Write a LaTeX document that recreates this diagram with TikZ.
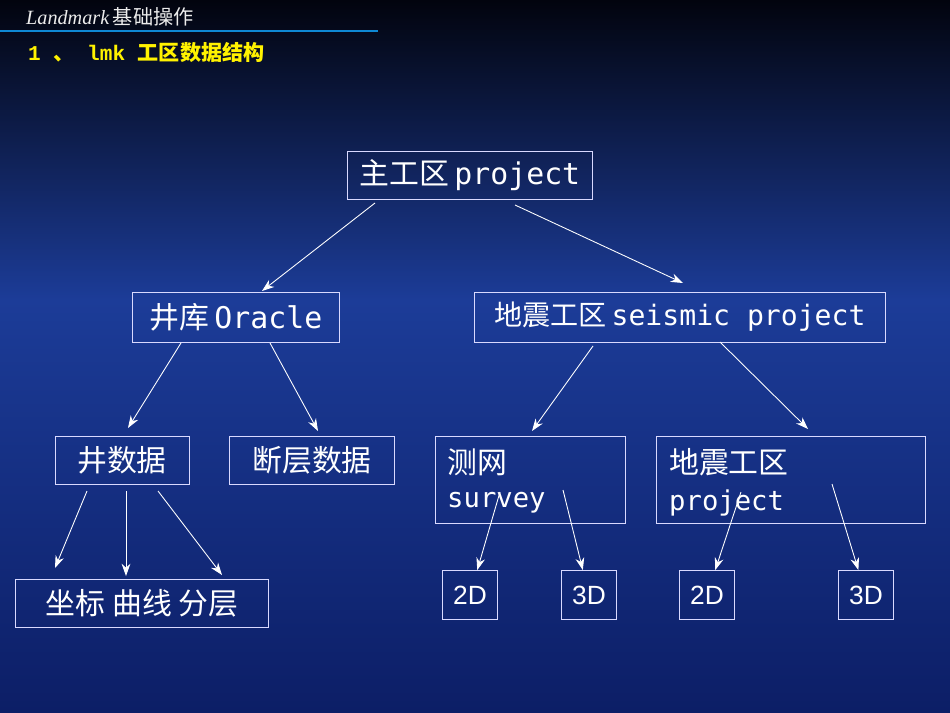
\documentclass[tikz,border=0pt]{standalone}
\usepackage{fontspec}
\setmainfont{Liberation Serif}
\newfontfamily\cjk{Noto Sans CJK SC}
\newfontfamily\lat{DejaVu Sans Mono}
\newfontfamily\ttl{Liberation Mono}
\newfontfamily\sans{Liberation Sans}
\usetikzlibrary{arrows.meta}
\definecolor{bgtop}{HTML}{02040E}
\definecolor{bgmid}{HTML}{1C3C98}
\definecolor{bgbot}{HTML}{0C1E66}
\begin{document}
\begin{tikzpicture}[x=0.02cm,y=-0.02cm,
  box/.style={draw=white!85!blue,line width=0.5pt,text=white,inner sep=0pt},
  arr/.style={draw=white,line width=0.5pt,-{Stealth[length=7pt,width=5pt]}}]
\fill[top color=bgtop,bottom color=bgmid] (0,0) rectangle (950,300);
\fill[top color=bgmid,bottom color=bgbot] (0,300) rectangle (950,713);
\useasboundingbox (0,0) rectangle (950,713);
\node[anchor=west,text=white!85!gray,font=\fontsize{11.5}{13}\selectfont] (hdr) at (20,17) {\textit{Landmark}\,{\cjk 基础操作}};
\draw[cyan!70!blue,line width=1.5pt] (0,31) -- (378,31);
\node[anchor=west,text=yellow,font=\fontsize{12}{14}\selectfont\bfseries] (ttl) at (22,52) {\ttl 1 {\cjk 、} lmk {\cjk 工区数据结构}};

\node[box,minimum width=245*0.02cm,minimum height=48*0.02cm,font=\fontsize{17}{19}\selectfont] (main) at (470,175) {{\cjk 主工区}\,{\lat project}};
\node[box,minimum width=207*0.02cm,minimum height=50*0.02cm,font=\fontsize{17}{19}\selectfont] (ora) at (236,317) {{\cjk 井库}\,{\lat Oracle}};
\node[box,minimum width=411*0.02cm,minimum height=50*0.02cm,font=\fontsize{16}{19}\selectfont] (seis) at (680,317) {{\cjk 地震工区}\,{\lat seismic project}};
\node[box,minimum width=134*0.02cm,minimum height=48*0.02cm,font=\fontsize{17}{19}\selectfont] (well) at (122,460) {\cjk 井数据};
\node[box,minimum width=165*0.02cm,minimum height=48*0.02cm,font=\fontsize{17}{19}\selectfont] (fault) at (312,460) {\cjk 断层数据};
\node[box,minimum width=190*0.02cm,minimum height=87*0.02cm] (surv) at (530,480) {};
\node[anchor=west,text=white,font=\fontsize{17}{19}\selectfont] (survA) at (441,462) {\cjk 测网};
\node[anchor=west,text=white,font=\fontsize{15.5}{18}\selectfont] (survB) at (441,503) {\lat survey};
\node[box,minimum width=269*0.02cm,minimum height=87*0.02cm] (proj) at (791,480) {};
\node[anchor=west,text=white,font=\fontsize{17}{19}\selectfont] (projA) at (663,462) {\cjk 地震工区};
\node[anchor=west,text=white,font=\fontsize{15.5}{18}\selectfont] (projB) at (663,503) {\lat project};
\node[box,minimum width=253*0.02cm,minimum height=48*0.02cm,font=\fontsize{17}{19}\selectfont] (coord) at (142,603) {\cjk 坐标\ 曲线\ 分层};
\foreach \n/\x/\t in {a/470/2D,b/589/3D,c/707/2D,d/866/3D}
  \node[box,minimum width=55*0.02cm,minimum height=49*0.02cm,font=\fontsize{15}{18}\selectfont\sans] (\n) at (\x,595) {\t};

\coordinate (m1) at (375,203); \coordinate (m2) at (515,205);
\coordinate (o1) at (181,343); \coordinate (o2) at (270,343);
\coordinate (s1) at (593,346); \coordinate (s2) at (720,342);
\coordinate (w1) at (87,491); \coordinate (w2) at (126,491); \coordinate (w3) at (158,491);
\coordinate (v1) at (500,492); \coordinate (v2) at (563,490);
\coordinate (p1) at (741,492); \coordinate (p2) at (832,484);
\coordinate (e1) at (55,568); \coordinate (e2) at (126,576); \coordinate (e3) at (222,575);
\draw[arr] (m1) -- (262,291);
\draw[arr] (m2) -- (683,283);
\draw[arr] (o1) -- (128,428);
\draw[arr] (o2) -- (318,431);
\draw[arr] (s1) -- (532,431);
\draw[arr] (s2) -- (808,429);
\draw[arr] (w1) -- (e1);
\draw[arr] (w2) -- (e2);
\draw[arr] (w3) -- (e3);
\draw[arr] (v1) -- (a);
\draw[arr] (v2) -- (b);
\draw[arr] (p1) -- (c);
\draw[arr] (p2) -- (d);
\end{tikzpicture}
\end{document}
